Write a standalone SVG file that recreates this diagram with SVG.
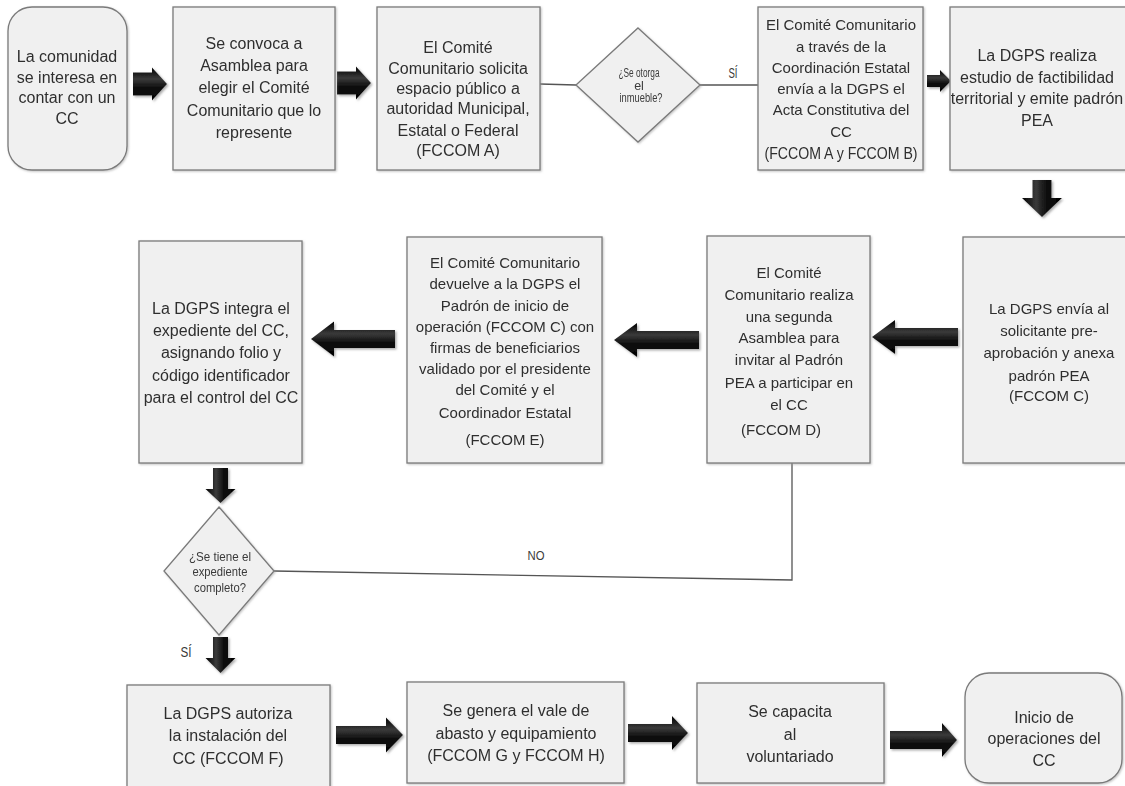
<svg xmlns="http://www.w3.org/2000/svg" width="1125" height="786" viewBox="0 0 1125 786">
<defs>
<style>
.box{fill:#f0f0f0;stroke:#7a7a7a;stroke-width:1.3}
.t{font-family:"Liberation Sans",Arial,sans-serif;font-size:16px;fill:#2f2f2f;text-anchor:middle}
.t15{font-size:15px}
.sm{font-family:"Liberation Sans",Arial,sans-serif;fill:#3a3a3a;text-anchor:middle}
.conn{fill:none;stroke:#555;stroke-width:1.3}
.arr{fill:url(#ag);filter:url(#sh)}
.arrv{fill:url(#agv);filter:url(#sh)}
</style>
<linearGradient id="ag" x1="0" y1="0" x2="0" y2="1">
<stop offset="0" stop-color="#000"/><stop offset="0.35" stop-color="#3a3a3a"/><stop offset="0.6" stop-color="#111"/><stop offset="1" stop-color="#000"/>
</linearGradient>
<linearGradient id="agv" x1="0" y1="0" x2="1" y2="0">
<stop offset="0" stop-color="#000"/><stop offset="0.35" stop-color="#3a3a3a"/><stop offset="0.6" stop-color="#111"/><stop offset="1" stop-color="#000"/>
</linearGradient>
<filter id="sh" x="-20%" y="-20%" width="150%" height="150%">
<feDropShadow dx="1.5" dy="1.5" stdDeviation="1.2" flood-color="#888" flood-opacity="0.7"/>
</filter>
<filter id="bs" x="-5%" y="-5%" width="110%" height="110%">
<feDropShadow dx="1" dy="1" stdDeviation="0.8" flood-color="#999" flood-opacity="0.6"/>
</filter>
</defs>
<rect width="1125" height="786" fill="#fff"/>

<g id="connectors">
<polyline class="conn" points="540,84 576,85"/>
<polyline class="conn" points="700,85 758,85"/>
<polyline class="conn" points="274,571 792,580 792,463"/>
<text class="sm" x="733" y="78" font-size="14" textLength="9" lengthAdjust="spacingAndGlyphs">SÍ</text>
<text class="sm" x="536" y="560" font-size="13" textLength="17" lengthAdjust="spacingAndGlyphs">NO</text>
<text class="sm" x="186" y="657" font-size="14" textLength="11" lengthAdjust="spacingAndGlyphs">SÍ</text>
<polygon class="arr" points="133,72.5 152,72.5 152,67.5 167,84 152,100.5 152,95.5 133,95.5"/>
<polygon class="arr" points="337,71.5 356,71.5 356,66.5 371,83 356,99.5 356,94.5 337,94.5"/>
<polygon class="arr" points="927,75 940,75 940,70 951,81 940,92 940,87 927,87"/>
<polygon class="arrv" points="1032.5,180 1051.5,180 1051.5,198 1062,198 1042,217 1022,198 1032.5,198"/>
<polygon class="arr" points="395,330 334,330 334,321.5 311,339 334,356.5 334,348 395,348"/>
<polygon class="arr" points="699,331 637,331 637,323 614,340 637,357 637,349 699,349"/>
<polygon class="arr" points="958,328 895,328 895,320 872,337 895,354 895,346 958,346"/>
<polygon class="arrv" points="213,468 228,468 228,489 235.5,489 220.5,503 205.5,489 213,489"/>
<polygon class="arrv" points="213,637 228,637 228,658 235.5,658 220.5,673 205.5,658 213,658"/>
<polygon class="arr" points="336,726 386,726 386,717.5 403,735 386,752.5 386,744 336,744"/>
<polygon class="arr" points="628,724 672,724 672,716 688,733 672,750 672,742 628,742"/>
<polygon class="arr" points="890,731 942,731 942,723 957,740 942,757 942,749 890,749"/>
</g>

<g id="n1" filter="url(#bs)">
<rect class="box" x="8" y="7" width="119" height="163" rx="24"/>
<text class="t" x="67" y="62">La comunidad</text>
<text class="t" x="67" y="83">se interesa en</text>
<text class="t" x="67" y="103">contar con un</text>
<text class="t" x="67" y="124">CC</text>
</g>
<g id="n2" filter="url(#bs)">
<rect class="box" x="173" y="7" width="162" height="163"/>
<text class="t" x="254" y="49">Se convoca a</text>
<text class="t" x="254" y="71">Asamblea para</text>
<text class="t" x="254" y="93">elegir el Comité</text>
<text class="t" x="254" y="116">Comunitario que lo</text>
<text class="t" x="254" y="138">represente</text>
</g>
<g id="n3" filter="url(#bs)">
<rect class="box" x="377" y="7" width="163" height="163"/>
<text class="t" x="458" y="53">El Comité</text>
<text class="t" x="458" y="74">Comunitario solicita</text>
<text class="t" x="458" y="94">espacio público a</text>
<text class="t" x="458" y="114">autoridad Municipal,</text>
<text class="t" x="458" y="136">Estatal o Federal</text>
<text class="t" x="458" y="156">(FCCOM A)</text>
</g>
<g id="d1" filter="url(#bs)">
<polygon class="box" points="638,28 700,85 638,142 576,85"/>
<text class="sm" x="639" y="77" font-size="12.5" textLength="41" lengthAdjust="spacingAndGlyphs">¿Se otorga</text>
<text class="sm" x="639" y="90" font-size="12.5">el</text>
<text class="sm" x="641" y="102" font-size="12.5" textLength="43" lengthAdjust="spacingAndGlyphs">inmueble?</text>
</g>
<g id="n5" filter="url(#bs)">
<rect class="box" x="758" y="7" width="165" height="163"/>
<text class="t t15" x="841" y="30">El Comité Comunitario</text>
<text class="t t15" x="841" y="52">a través de la</text>
<text class="t t15" x="841" y="73">Coordinación Estatal</text>
<text class="t t15" x="841" y="94">envía a la DGPS el</text>
<text class="t t15" x="841" y="115">Acta Constitutiva del</text>
<text class="t t15" x="841" y="137">CC</text>
<text class="t" x="841" y="159" font-size="14" textLength="153" lengthAdjust="spacingAndGlyphs">(FCCOM A y FCCOM B)</text>
</g>
<g id="n6" filter="url(#bs)">
<rect class="box" x="950" y="7" width="180" height="163"/>
<text class="t" x="1037" y="61">La DGPS realiza</text>
<text class="t" x="1037" y="83">estudio de factibilidad</text>
<text class="t" x="1037" y="104">territorial y emite padrón</text>
<text class="t" x="1037" y="126">PEA</text>
</g>

<g id="m1" filter="url(#bs)">
<rect class="box" x="139" y="241" width="163" height="222"/>
<text class="t" x="221" y="314">La DGPS integra el</text>
<text class="t" x="221" y="336">expediente del CC,</text>
<text class="t" x="221" y="358">asignando folio y</text>
<text class="t" x="221" y="381">código identificador</text>
<text class="t" x="221" y="403">para el control del CC</text>
</g>
<g id="m2" filter="url(#bs)">
<rect class="box" x="407" y="237" width="195" height="226"/>
<text class="t t15" x="505" y="268">El Comité Comunitario</text>
<text class="t t15" x="505" y="289">devuelve a la DGPS el</text>
<text class="t t15" x="505" y="311">Padrón de inicio de</text>
<text class="t t15" x="505" y="332">operación (FCCOM C) con</text>
<text class="t t15" x="505" y="353">firmas de beneficiarios</text>
<text class="t t15" x="505" y="374">validado por el presidente</text>
<text class="t t15" x="505" y="395">del Comité y el</text>
<text class="t t15" x="505" y="418">Coordinador Estatal</text>
<text class="t t15" x="505" y="445">(FCCOM E)</text>
</g>
<g id="m3" filter="url(#bs)">
<rect class="box" x="707" y="236" width="163" height="227"/>
<text class="t t15" x="789" y="278">El Comité</text>
<text class="t t15" x="789" y="300">Comunitario realiza</text>
<text class="t t15" x="789" y="322">una segunda</text>
<text class="t t15" x="789" y="343">Asamblea para</text>
<text class="t t15" x="789" y="365">invitar al Padrón</text>
<text class="t t15" x="789" y="388">PEA a participar en</text>
<text class="t t15" x="789" y="410">el CC</text>
<text class="t t15" x="781" y="435">(FCCOM D)</text>
</g>
<g id="m4" filter="url(#bs)">
<rect class="box" x="963" y="237" width="175" height="226"/>
<text class="t t15" x="1049" y="314">La DGPS envía al</text>
<text class="t t15" x="1049" y="336">solicitante pre-</text>
<text class="t t15" x="1049" y="358">aprobación y anexa</text>
<text class="t t15" x="1049" y="381">padrón PEA</text>
<text class="t t15" x="1049" y="401">(FCCOM C)</text>
</g>

<g id="d2" filter="url(#bs)">
<polygon class="box" points="219,507 274,571 219,635 164,571"/>
<text class="sm" x="220" y="561" font-size="13" textLength="62" lengthAdjust="spacingAndGlyphs">¿Se tiene el</text>
<text class="sm" x="220" y="576" font-size="13" textLength="55" lengthAdjust="spacingAndGlyphs">expediente</text>
<text class="sm" x="220" y="592" font-size="13" textLength="52" lengthAdjust="spacingAndGlyphs">completo?</text>
</g>

<g id="b1" filter="url(#bs)">
<rect class="box" x="127" y="685" width="203" height="110"/>
<text class="t" x="228" y="719">La DGPS autoriza</text>
<text class="t" x="228" y="741">la instalación del</text>
<text class="t" x="228" y="764">CC (FCCOM F)</text>
</g>
<g id="b2" filter="url(#bs)">
<rect class="box" x="407" y="682" width="217" height="101"/>
<text class="t" x="516" y="716">Se genera el vale de</text>
<text class="t" x="516" y="739">abasto y equipamiento</text>
<text class="t" x="516" y="761">(FCCOM G y FCCOM H)</text>
</g>
<g id="b3" filter="url(#bs)">
<rect class="box" x="697" y="683" width="187" height="100"/>
<text class="t" x="790" y="717">Se capacita</text>
<text class="t" x="790" y="740">al</text>
<text class="t" x="790" y="762">voluntariado</text>
</g>
<g id="b4" filter="url(#bs)">
<rect class="box" x="965" y="673" width="157" height="110" rx="24"/>
<text class="t" x="1044" y="723">Inicio de</text>
<text class="t" x="1044" y="744">operaciones del</text>
<text class="t" x="1044" y="766">CC</text>
</g>
</svg>
